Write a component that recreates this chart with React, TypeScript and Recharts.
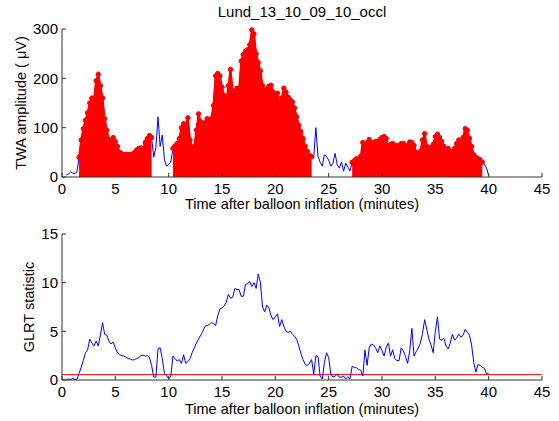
import { Area, ComposedChart, Line, ReferenceLine, XAxis, YAxis } from "recharts"

// time axis, minutes after balloon inflation
const minutes = [
  0.4, 0.6, 0.8, 1.0, 1.2, 1.4, 1.6, 1.8, 2.0, 2.2,
  2.4, 2.6, 2.8, 3.0, 3.2, 3.4, 3.6, 3.8, 4.0, 4.2,
  4.4, 4.6, 4.8, 5.0, 5.2, 5.4, 5.6, 5.8, 6.0, 6.2,
  6.4, 6.6, 6.8, 7.0, 7.2, 7.4, 7.6, 7.8, 8.0, 8.2,
  8.4, 8.6, 8.8, 9.0, 9.2, 9.4, 9.6, 9.8, 10.0, 10.2,
  10.4, 10.6, 10.8, 11.0, 11.2, 11.4, 11.6, 11.8, 12.0, 12.2,
  12.4, 12.6, 12.8, 13.0, 13.2, 13.4, 13.6, 13.8, 14.0, 14.2,
  14.4, 14.6, 14.8, 15.0, 15.2, 15.4, 15.6, 15.8, 16.0, 16.2,
  16.4, 16.6, 16.8, 17.0, 17.2, 17.4, 17.6, 17.8, 18.0, 18.2,
  18.4, 18.6, 18.8, 19.0, 19.2, 19.4, 19.6, 19.8, 20.0, 20.2,
  20.4, 20.6, 20.8, 21.0, 21.2, 21.4, 21.6, 21.8, 22.0, 22.2,
  22.4, 22.6, 22.8, 23.0, 23.2, 23.4, 23.6, 23.8, 24.0, 24.2,
  24.4, 24.6, 24.8, 25.0, 25.2, 25.4, 25.6, 25.8, 26.0, 26.2,
  26.4, 26.6, 26.8, 27.0, 27.2, 27.4, 27.6, 27.8, 28.0, 28.2,
  28.4, 28.6, 28.8, 29.0, 29.2, 29.4, 29.6, 29.8, 30.0, 30.2,
  30.4, 30.6, 30.8, 31.0, 31.2, 31.4, 31.6, 31.8, 32.0, 32.2,
  32.4, 32.6, 32.8, 33.0, 33.2, 33.4, 33.6, 33.8, 34.0, 34.2,
  34.4, 34.6, 34.8, 35.0, 35.2, 35.4, 35.6, 35.8, 36.0, 36.2,
  36.4, 36.6, 36.8, 37.0, 37.2, 37.4, 37.6, 37.8, 38.0, 38.2,
  38.4, 38.6, 38.8, 39.0, 39.2, 39.4, 39.6, 39.8, 40.0,
]

// TWA amplitude (uV)
const twaAmplitude = [
  4, 6, 10, 8, 7, 10, 40, 75, 98, 115,
  130, 150, 160, 158, 195, 208, 185, 160, 118, 95,
  76, 74, 80, 72, 62, 50, 47, 45, 46, 45,
  46, 46, 50, 55, 58, 59, 56, 70, 78, 84,
  80, 40, 60, 122, 62, 85, 35, 22, 25, 30,
  58, 63, 68, 78, 100, 108, 104, 120, 75, 60,
  62, 95, 128, 112, 102, 110, 118, 112, 118, 145,
  205, 210, 205, 182, 165, 152, 185, 218, 175, 172,
  180, 175, 235, 248, 255, 258, 268, 298, 290, 250,
  232, 215, 185, 176, 178, 184, 186, 172, 165, 170,
  145, 160, 180, 172, 162, 156, 152, 140, 122, 105,
  92, 78, 62, 52, 44, 41, 40, 100, 42, 30,
  22, 45, 42, 34, 22, 28, 48, 25, 18, 30,
  12, 28, 20, 12, 30, 33, 37, 36, 42, 70,
  66, 70, 76, 68, 70, 72, 70, 76, 80, 82,
  78, 60, 66, 68, 62, 64, 62, 68, 68, 58,
  64, 71, 70, 64, 50, 48, 52, 75, 88, 62,
  58, 60, 66, 82, 87, 80, 72, 62, 48, 58,
  52, 52, 58, 68, 75, 62, 80, 98, 95, 78,
  62, 45, 40, 37, 35, 30, 26, 18, 3,
]

const glrtStatistic = [
  0.05, 0.1, 0.05, 0.15, 0.08, 0.05, 0.7, 1.3, 2.0, 2.8,
  3.1, 4.2, 3.8, 3.5, 4.0, 3.5, 4.6, 5.9, 4.7, 4.6,
  4.0, 3.7, 3.9, 3.3, 2.8, 2.6, 2.5, 2.45, 2.35, 2.2,
  2.15, 2.05, 2.1, 2.2, 2.3, 2.5, 2.55, 2.45, 2.5, 2.3,
  1.5, 0.3, 0.3, 3.2, 3.3, 2.2, 0.7, 0.45, 0.1, 0.4,
  2.45, 2.2, 1.95, 2.1, 1.7, 2.6, 1.7, 1.9, 2.2, 2.8,
  3.3, 3.8, 4.2, 4.6, 5.0, 5.5, 5.6, 5.7, 5.9, 5.8,
  5.6, 6.6, 7.3, 7.4, 7.6, 8.0, 8.8, 8.4, 8.5, 9.4,
  9.3, 9.3, 8.6, 8.6, 9.8, 9.9, 10.1, 9.6, 10.0, 9.4,
  10.9, 10.0, 7.5, 7.0, 7.7, 7.4, 6.6, 6.2, 6.5, 6.8,
  5.5, 6.2, 5.5, 5.0, 4.9, 5.0, 4.7, 4.5, 4.2, 3.5,
  2.7, 2.1, 1.6, 1.5, 1.7, 2.1, 0.6, 2.5, 2.4, 0.4,
  0.1, 1.8, 2.8, 2.3, 0.6, 0.3, 0.4, 0.6, 0.3, 0.3,
  0.4, 0.1, 0.35, 0.1, 1.4, 1.3, 1.25, 1.1, 1.0, 0.4,
  3.1, 1.5, 3.3, 3.7, 3.6, 3.3, 2.8, 3.5, 3.0, 2.45,
  3.4, 3.8, 2.45, 3.1, 2.2, 2.0, 2.0, 3.3, 3.0, 2.45,
  1.7, 3.0, 5.3, 2.45, 2.9, 3.3, 3.8, 4.8, 6.2, 5.2,
  4.2, 3.6, 2.8, 5.0, 6.5, 4.2, 4.1, 4.3, 3.5, 3.2,
  3.8, 4.7, 4.1, 4.3, 4.7, 4.4, 4.6, 5.2, 4.9, 4.6,
  3.6, 1.8, 0.8, 1.6, 1.5, 1.3, 1.2, 0.6, 0.7,
]

// stretches where TWA was detected (drawn red)
const detectedSpans = [
  [1.6, 8.4],
  [10.4, 23.4],
  [27.2, 39.4],
]
const glrtThreshold = 0.55

const minuteTicks = [0, 5, 10, 15, 20, 25, 30, 35, 40, 45]
const twaTicks = [0, 100, 200, 300]
const glrtTicks = [0, 5, 10, 15]

const isDetected = (t: number) => detectedSpans.some(([a, b]) => t >= a && t <= b)

const data = minutes.map((t, i) => ({
  t,
  twa: twaAmplitude[i],
  detected: isDetected(t) ? twaAmplitude[i] : null,
  glrt: glrtStatistic[i],
}))

const font = "'Liberation Sans', Arial, Helvetica, sans-serif"
const axisColor = "#333"
const tickStyle = { fill: "#000", fontSize: 15, fontFamily: font }

const xLabel = (baseline: number) => () => (
  <text x={302} y={baseline} textAnchor="middle" fontSize={14.5} fontFamily={font} fill="#000">
    Time after balloon inflation (minutes)
  </text>
)

const yLabel = (text: string, x: number, cy: number) => () => (
  <text
    x={x}
    y={cy}
    transform={`rotate(-90, ${x}, ${cy})`}
    textAnchor="middle"
    fontSize={14.5}
    fontFamily={font}
    fill="#000"
  >
    {text}
  </text>
)

export default function App() {
  return (
    <div style={{ position: "absolute", left: 0, top: 0, width: 559, height: 421, background: "#fff" }}>
      <div
        style={{
          position: "absolute",
          left: 62,
          top: 4,
          width: 480,
          textAlign: "center",
          fontFamily: font,
          fontSize: 15,
          lineHeight: "15px",
        }}
      >
        Lund_13_10_09_10_occl
      </div>

      <div style={{ position: "absolute", left: 0, top: 0 }}>
        <ComposedChart width={559} height={215} data={data} margin={{ top: 29, right: 17, bottom: 0, left: 0 }}>
          <XAxis
            dataKey="t"
            type="number"
            domain={[0, 45]}
            ticks={minuteTicks}
            height={38}
            stroke={axisColor}
            tick={tickStyle}
            tickSize={-4}
            tickMargin={10}
            label={xLabel(208.5)}
          />
          <YAxis
            type="number"
            domain={[0, 300]}
            ticks={twaTicks}
            width={62}
            stroke={axisColor}
            tick={tickStyle}
            tickSize={-4}
            tickMargin={8}
            label={yLabel("TWA amplitude ( μV)", 26, 103)}
          />
          <Area
            dataKey="twa"
            type="linear"
            stroke="#0000ff"
            strokeWidth={1}
            fill="none"
            dot={false}
            activeDot={false}
            isAnimationActive={false}
          />
          <Area
            dataKey="detected"
            type="linear"
            stroke="#ff0000"
            strokeWidth={2}
            fill="#ff0000"
            fillOpacity={1}
            dot={{ r: 2.2, fill: "#ff0000", stroke: "#ff0000", strokeWidth: 1 }}
            activeDot={false}
            isAnimationActive={false}
          />
        </ComposedChart>
      </div>

      <div style={{ position: "absolute", left: 0, top: 210 }}>
        <ComposedChart width={559} height={211} data={data} margin={{ top: 24, right: 17, bottom: 0, left: 0 }}>
          <XAxis
            dataKey="t"
            type="number"
            domain={[0, 45]}
            ticks={minuteTicks}
            height={41}
            stroke={axisColor}
            tick={tickStyle}
            tickSize={-4}
            tickMargin={10}
            label={xLabel(203.5)}
          />
          <YAxis
            type="number"
            domain={[0, 15]}
            ticks={glrtTicks}
            width={62}
            stroke={axisColor}
            tick={tickStyle}
            tickSize={-4}
            tickMargin={8}
            label={yLabel("GLRT statistic", 34, 97)}
          />
          <ReferenceLine y={glrtThreshold} stroke="#ff0000" strokeWidth={1} />
          <Line
            dataKey="glrt"
            type="linear"
            stroke="#0000ff"
            strokeWidth={1}
            dot={false}
            activeDot={false}
            isAnimationActive={false}
          />
        </ComposedChart>
      </div>
    </div>
  )
}
